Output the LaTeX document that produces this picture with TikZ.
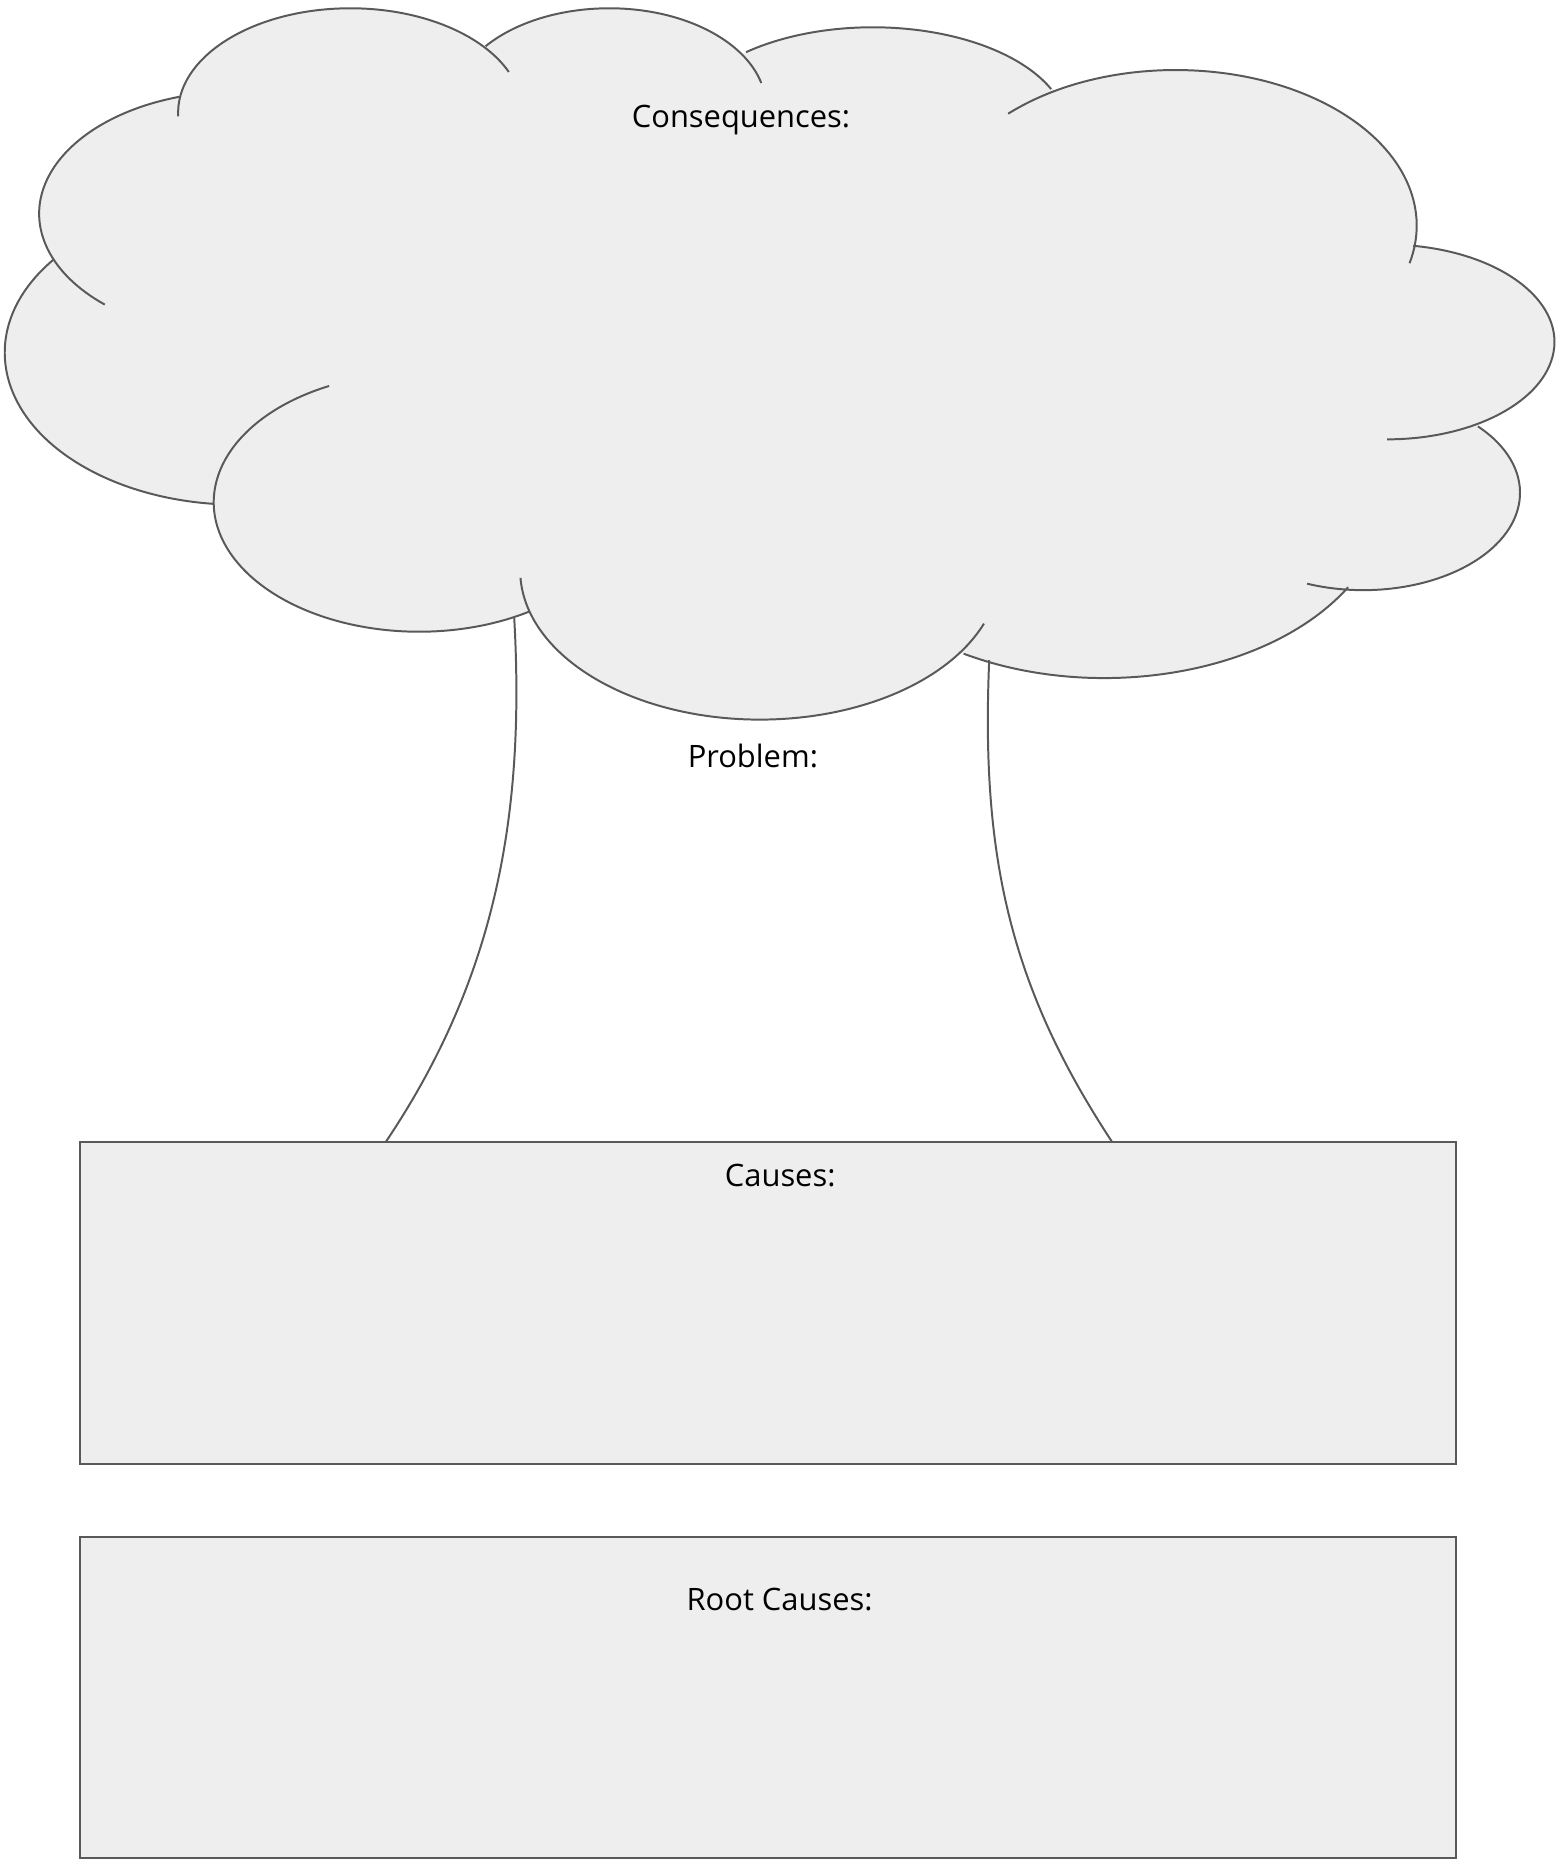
\documentclass[tikz,border=0pt]{standalone}
\usepackage{fontspec}
\setmainfont{Open Sans}
\usetikzlibrary{positioning,calc}
\definecolor{paper}{HTML}{EEEEEE}
\definecolor{ink}{HTML}{595959}

\begin{document}
\begin{tikzpicture}[x=0.6pt,y=0.6pt,
  outline/.style={draw=ink,line width=1pt},
  panel/.style={rectangle,draw=ink,line width=1pt,fill=paper,minimum width=695.4pt,minimum height=162.6pt,inner sep=0pt},
  caption/.style={font=\fontsize{15.6}{18}\selectfont,inner sep=0pt,anchor=base},
  trunk/.style={draw=ink,line width=1pt}
]
\useasboundingbox (0,0) rectangle (1312,1568);

% cloud body: inner polygon through the joints, then the lobes
\fill[paper] (150,1486) -- (407,1530) -- (630,1523) -- (880,1496) -- (1190,1363)
  -- (1245,1210) -- (1135,1073) -- (810,1018) -- (448,1051) -- (180,1145) -- (45,1350) -- cycle;
\foreach \cx/\cy/\rx/\ry/\from/\to in {
    295/1473/145/88/182/23, 513/1478/132/83/142/14, 735/1458/164/87/130.6/23.7,
    990/1378/203/131/134/-14, 1168/1280/141/82/81/-90, 1148/1153/132/82/43/-111,
    930/1150/237/153/-30/-120, 640/1088/202/126/183/339, 353/1145/173/109/116/302.5,
    200/1271/196/128/142/264, 200/1388/167/103/107/228}
  \fill[paper] (\cx,\cy) ellipse [x radius=\rx, y radius=\ry];
% cloud outline, one arc per lobe
\foreach \cx/\cy/\rx/\ry/\from/\to in {
    295/1473/145/88/182/23, 513/1478/132/83/142/14, 735/1458/164/87/130.6/23.7,
    990/1378/203/131/134/-14, 1168/1280/141/82/81/-90, 1148/1153/132/82/43/-111,
    930/1150/237/153/-30/-120, 640/1088/202/126/183/339, 353/1145/173/109/116/302.5,
    200/1271/196/128/142/264, 200/1388/167/103/107/228}
  \draw[outline] (\cx,\cy) ++({\from}:{\rx} and {\ry})
    arc [start angle=\from, end angle=\to, x radius=\rx, y radius=\ry];

% boxes
\node[panel] (causes) at (646.5,470.5) {};
\node[panel] (roots) at (646.5,138.5) {};

% trunk
\coordinate (trunkL) at (433,1048);
\coordinate (trunkR) at (833,1012);
\coordinate (rootL) at ($(causes.north west)+(259,0)$);
\coordinate (rootR) at ($(causes.north west)+(870,0)$);
\draw[trunk] (trunkL) .. controls (442,888) and (420,748) .. (rootL);
\draw[trunk] (trunkR) .. controls (826,848) and (850,738) .. (rootR);

% labels
\node[caption] (conseq) at (624,1461) {Consequences:};
\node[caption] (problem) at (634,922) {Problem:};
\node[caption] (causesLbl) at (657,569) {Causes:};
\node[caption] (rootsLbl) at (656.5,212) {Root Causes:};
\end{tikzpicture}
\end{document}
